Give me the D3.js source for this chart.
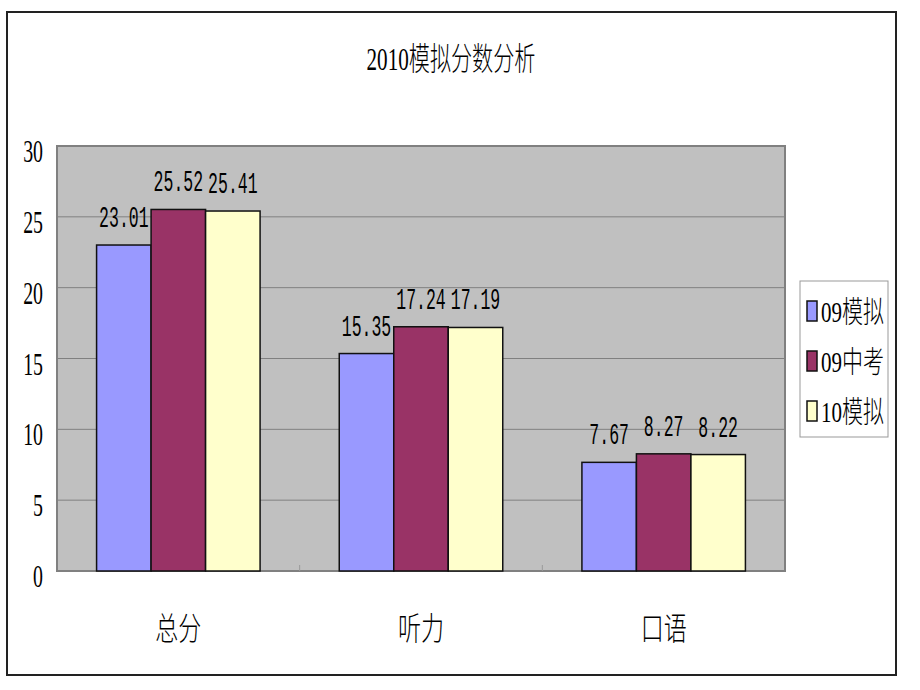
<!DOCTYPE html>
<html>
<head>
<meta charset="utf-8">
<script src="https://cdn.jsdelivr.net/npm/d3@7"></script>
<style>
  html, body { margin: 0; padding: 0; background: #fff; }
  svg { display: block; }
</style>
</head>
<body>
<svg width="920" height="690"></svg>
<script>
const categories = ["总分", "听力", "口语"];
const seriesNames = ["09模拟", "09中考", "10模拟"];
const mock09 = [23.01, 15.35, 7.67];
const exam09 = [25.52, 17.24, 8.27];
const mock10 = [25.41, 17.19, 8.22];
const yTicks = [0, 5, 10, 15, 20, 25, 30];
const colors = ["#9999ff", "#993366", "#ffffcc"];

const seriesValues = [mock09, exam09, mock10];
const rows = categories.map((c, i) => ({
  cat: c,
  vals: seriesNames.map((s, j) => ({ name: s, value: seriesValues[j][i], color: colors[j] })),
}));

const plot = { left: 57, right: 785, top: 146, bottom: 571 };
const serif = "'Liberation Serif', 'Noto Sans CJK SC', serif";
const mono = "'Liberation Mono', monospace";

const svg = d3.select("svg");

// outer frame
svg.append("rect")
  .attr("x", 7).attr("y", 12)
  .attr("width", 889).attr("height", 663)
  .attr("fill", "#fff")
  .attr("stroke", "#222")
  .attr("stroke-width", 2);

// narrow text helper (the source picture is squeezed sideways)
function label(g, x, y, txt, size, sx, anchor, family) {
  return g.append("text")
    .attr("transform", `translate(${x},${y}) scale(${sx},1)`)
    .attr("text-anchor", anchor || "middle")
    .attr("font-family", family || serif)
    .attr("font-size", size)
    .attr("font-weight", 300)
    .attr("fill", "#000")
    .text(txt);
}

label(svg, 451, 70, "2010模拟分数分析", 32, 0.66);

const x0 = d3.scaleBand().domain(categories).range([plot.left, plot.right]).padding(0);
const groupW = 163.5;
const x1 = d3.scaleBand().domain(seriesNames).range([0, groupW]).padding(0);
const y = d3.scaleLinear().domain([0, 30]).range([plot.bottom, plot.top]);

// plot background
svg.append("rect")
  .attr("x", plot.left).attr("y", plot.top)
  .attr("width", plot.right - plot.left).attr("height", plot.bottom - plot.top)
  .attr("fill", "#c0c0c0");

// gridlines
svg.append("g")
  .selectAll("line")
  .data(yTicks.filter((t) => t > 0 && t < 30))
  .join("line")
  .attr("x1", plot.left).attr("x2", plot.right)
  .attr("y1", (d) => y(d)).attr("y2", (d) => y(d))
  .attr("stroke", "#808080")
  .attr("stroke-width", 1);

// plot border
svg.append("rect")
  .attr("x", plot.left).attr("y", plot.top)
  .attr("width", plot.right - plot.left).attr("height", plot.bottom - plot.top)
  .attr("fill", "none")
  .attr("stroke", "#808080")
  .attr("stroke-width", 2);

// category tick marks
svg.append("g")
  .selectAll("line")
  .data(categories.slice(1))
  .join("line")
  .attr("x1", (d) => x0(d)).attr("x2", (d) => x0(d))
  .attr("y1", plot.bottom).attr("y2", plot.bottom - 6)
  .attr("stroke", "#999");

// bars
const off = (x0.bandwidth() - groupW) / 2;
const groups = svg.append("g")
  .selectAll("g")
  .data(rows)
  .join("g")
  .attr("transform", (d) => `translate(${x0(d.cat) + off},0)`);

groups.selectAll("rect")
  .data((d) => d.vals)
  .join("rect")
  .attr("x", (d) => x1(d.name))
  .attr("y", (d) => y(d.value))
  .attr("width", x1.bandwidth())
  .attr("height", (d) => y(0) - y(d.value))
  .attr("fill", (d) => d.color)
  .attr("stroke", "#111")
  .attr("stroke-width", 1.5);

groups.each(function (d) {
  const g = d3.select(this);
  d.vals.forEach((v) => {
    label(g, x1(v.name) + x1.bandwidth() / 2, y(v.value) - 18, v.value.toFixed(2), 30, 0.55, "middle", mono);
  });
});

// y tick labels
const yAxis = svg.append("g");
yTicks.forEach((t) => label(yAxis, 43, y(t) + 16, String(t), 32, 0.62, "end"));

// category labels
categories.forEach((c) => label(svg, x0(c) + x0.bandwidth() / 2, 640, c, 32, 0.72));

// legend
const lg = svg.append("g");
lg.append("rect")
  .attr("x", 800).attr("y", 281)
  .attr("width", 88).attr("height", 156)
  .attr("fill", "#fff")
  .attr("stroke", "#999")
  .attr("stroke-width", 1);
seriesNames.forEach((s, i) => {
  const cy = 311 + i * 50;
  lg.append("rect")
    .attr("x", 807).attr("y", cy - 10)
    .attr("width", 10).attr("height", 20)
    .attr("fill", colors[i])
    .attr("stroke", "#111")
    .attr("stroke-width", 1.5);
  label(lg, 821, cy + 11, s, 30, 0.7, "start");
});
</script>
</body>
</html>
